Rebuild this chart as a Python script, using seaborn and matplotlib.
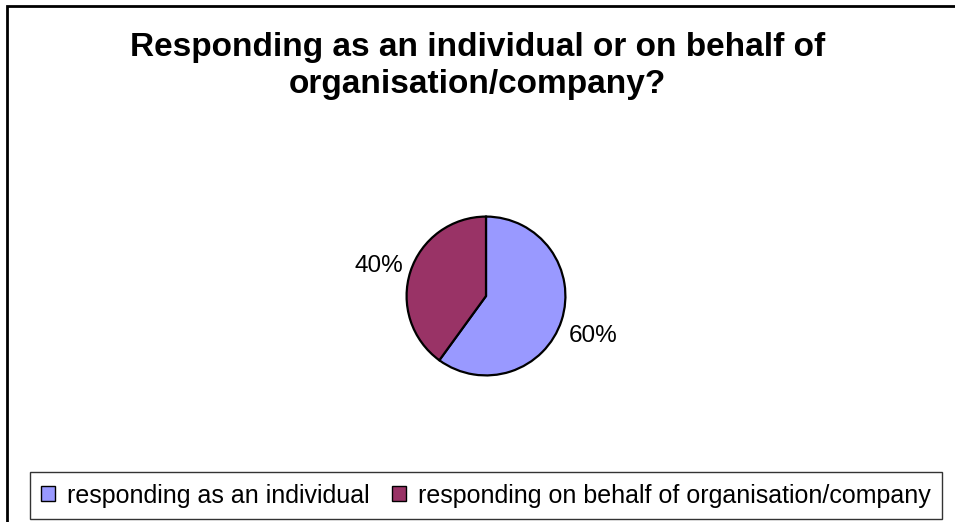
import numpy as np
import matplotlib
matplotlib.use("Agg")
import matplotlib.pyplot as plt
from matplotlib.patches import Rectangle, Patch
import seaborn as sns

title = "Responding as an individual or on behalf of\norganisation/company?"
categories = ["responding as an individual",
              "responding on behalf of organisation/company"]
shares = [60, 40]
colors = ["#9999FF", "#993366"]

sns.set_theme(style="white")
plt.rcParams["font.family"] = ["Liberation Sans", "DejaVu Sans"]
plt.rcParams["text.color"] = "black"

fig = plt.figure(figsize=(9.55, 5.22), dpi=100)
fig.patch.set_facecolor("white")

# outer chart border (only top/left edges fall inside the canvas)
fig.add_artist(Rectangle((6.5 / 955, -0.05), 1.2, 1 - 5.5 / 522 + 0.05,
                         transform=fig.transFigure, fill=False,
                         edgecolor="black", linewidth=2.0))

fig.text(0.5, 1 - 66 / 522, title, ha="center", va="center",
         fontsize=24, fontweight="bold", linespacing=1.28, color="black")

# pie area: centre ~(486, 296) px, radius ~81 px
r_px = 81
cx, cy = 486, 296
ax = fig.add_axes([(cx - r_px) / 955, 1 - (cy + r_px) / 522,
                   2 * r_px / 955, 2 * r_px / 522])
wedges, _ = ax.pie(shares, colors=colors, startangle=90, counterclock=False,
                   radius=1.0,
                   wedgeprops=dict(edgecolor="black", linewidth=1.6))
ax.set_xlim(-1.02, 1.02)
ax.set_ylim(-1.02, 1.02)
ax.set_aspect("equal")
ax.axis("off")

for w, v in zip(wedges, shares):
    mid = np.deg2rad((w.theta1 + w.theta2) / 2)
    ax.text(1.42 * np.cos(mid), 1.42 * np.sin(mid) - 0.06, f"{v}%",
            ha="center", va="center", fontsize=17.5, color="black",
            clip_on=False)

handles = [Patch(facecolor=c, edgecolor="black", linewidth=1.0) for c in colors]
leg = fig.legend(handles, categories, loc="center",
                 bbox_to_anchor=(486 / 955, 1 - 495.5 / 522),
                 ncol=2, fontsize=18, frameon=True, fancybox=False,
                 handlelength=0.55, handleheight=0.55, handletextpad=0.5,
                 columnspacing=0.9, borderpad=0.45, labelcolor="black")
leg.get_frame().set_edgecolor("black")
leg.get_frame().set_linewidth(1.0)

fig.savefig("out.png", dpi=100, facecolor="white")
